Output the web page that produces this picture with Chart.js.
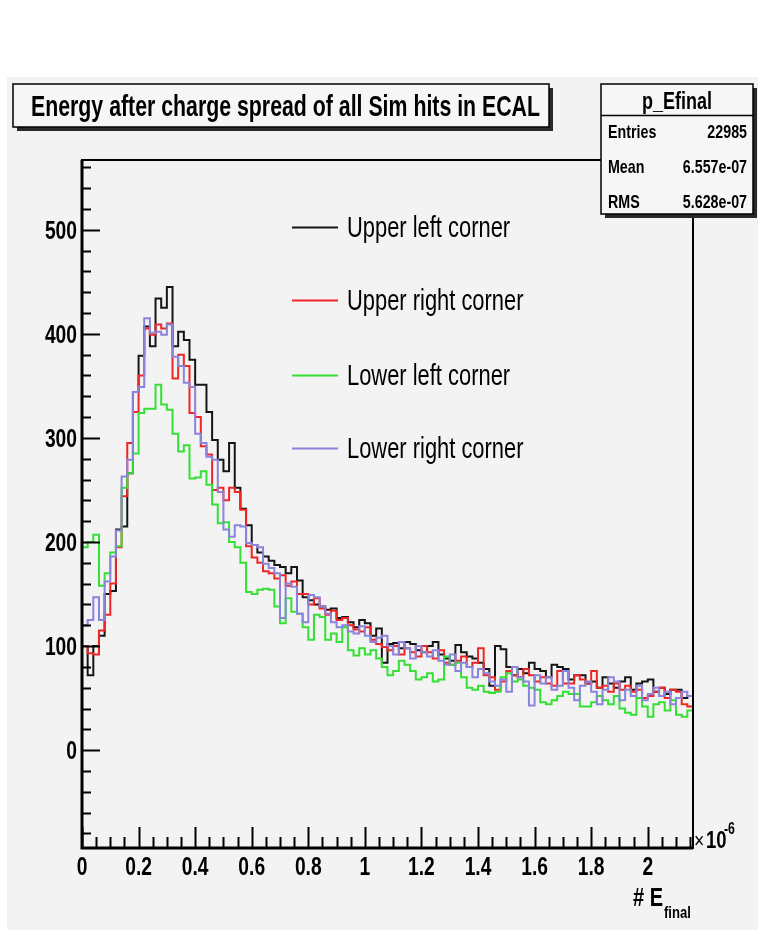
<!DOCTYPE html>
<html>
<head>
<meta charset="utf-8">
<title>p_Efinal</title>
<script src="https://cdn.jsdelivr.net/npm/chart.js@4.4.0/dist/chart.umd.min.js"></script>
<style>
  html, body { margin: 0; padding: 0; background: #fff; }
  #wrap { width: 758px; height: 933px; }
</style>
</head>
<body>
<div id="wrap"><canvas id="hist" width="758" height="933"></canvas></div>
<script>
// histogram binning, x in units of 1e-6
const binWidth = 0.02;
const xMin = 0, xMax = 2.16;
const yMin = -94, yMax = 567;

const xTicks = [0, 0.2, 0.4, 0.6, 0.8, 1, 1.2, 1.4, 1.6, 1.8, 2];
const xTickLabels = ['0', '0.2', '0.4', '0.6', '0.8', '1', '1.2', '1.4', '1.6', '1.8', '2'];
const yTicks = [0, 100, 200, 300, 400, 500];
const yTickLabels = ['0', '100', '200', '300', '400', '500'];

const seriesNames = ['Upper left corner', 'Upper right corner', 'Lower left corner', 'Lower right corner'];
const seriesColors = ['#151515', '#f02525', '#33e033', '#8a84dc'];

// bin contents, 108 bins
const upperLeft = [
  100, 72, 100, 110, 150, 153, 212, 215, 266, 344,
  379, 407, 388, 434, 425, 445, 388, 402, 394, 375,
  351, 351, 325, 298, 279, 268, 295, 252, 232, 216,
  197, 190, 186, 182, 178, 176, 170, 176, 163, 147,
  144, 140, 138, 135, 136, 127, 128, 123, 118, 125,
  122, 110, 117, 84, 102, 103, 98, 104, 102, 96,
  94, 100, 104, 92, 88, 86, 101, 94, 90, 88,
  84, 78, 62, 100, 97, 80, 72, 78, 74, 84,
  78, 76, 70, 82, 80, 78, 68, 72, 72, 64,
  66, 60, 70, 64, 60, 66, 70, 58, 64, 66,
  68, 56, 60, 54, 58, 58, 50, 52
];
const upperRight = [
  100, 93, 92, 115, 130, 160, 195, 244, 295, 325,
  360, 405, 399, 409, 405, 410, 357, 380, 369, 324,
  320, 292, 284, 250, 252, 240, 252, 248, 231, 196,
  185, 180, 172, 170, 165, 168, 158, 162, 150, 150,
  140, 146, 136, 130, 134, 125, 127, 120, 116, 114,
  118, 106, 102, 99, 96, 100, 92, 98, 94, 90,
  100, 94, 88, 96, 84, 82, 86, 90, 80, 84,
  98, 72, 70, 58, 66, 76, 72, 70, 78, 72,
  66, 70, 64, 62, 76, 64, 64, 72, 68, 64,
  76, 60, 62, 56, 64, 58, 62, 56, 58, 50,
  52, 56, 60, 50, 58, 56, 44, 42
];
const lowerLeft = [
  195, 200, 207, 158, 170, 190, 196, 252, 266, 285,
  324, 328, 328, 351, 332, 327, 304, 287, 293, 261,
  262, 268, 255, 236, 218, 219, 200, 195, 180, 152,
  150, 154, 155, 154, 138, 122, 146, 133, 131, 118,
  106, 130, 128, 106, 112, 104, 118, 96, 91, 98,
  92, 96, 88, 80, 72, 76, 86, 82, 76, 68,
  70, 74, 66, 68, 90, 82, 84, 70, 60, 58,
  62, 56, 55, 56, 70, 74, 66, 68, 62, 60,
  58, 46, 44, 48, 52, 56, 54, 54, 42, 42,
  46, 52, 48, 44, 52, 40, 36, 34, 50, 42,
  32, 44, 46, 38, 48, 34, 32, 38
];
const lowerRight = [
  120, 125, 147, 125, 162, 186, 211, 263, 279, 344,
  349, 415, 401, 402, 399, 409, 378, 369, 353, 349,
  304, 295, 282, 279, 248, 212, 205, 216, 215, 199,
  197, 195, 179, 175, 170, 127, 160, 157, 131, 123,
  149, 147, 138, 131, 123, 118, 120, 114, 112, 119,
  110, 104, 108, 110, 100, 92, 104, 98, 88, 100,
  94, 90, 96, 86, 82, 92, 76, 84, 80, 70,
  78, 74, 66, 62, 68, 56, 80, 70, 66, 43,
  72, 64, 70, 58, 62, 76, 60, 48, 62, 66,
  56, 44, 58, 70, 66, 48, 58, 52, 62, 48,
  54, 60, 52, 56, 44, 50, 56, 52
];

const statsRows = [['Entries', '22985'], ['Mean', '6.557e-07'], ['RMS', '5.628e-07']];

// left bin edges plus the closing edge, for a stepped outline
function stepPoints(counts) {
  const pts = counts.map((c, i) => ({ x: i * binWidth, y: c }));
  pts.push({ x: counts.length * binWidth, y: counts[counts.length - 1] });
  return pts;
}

const FONT = '"Liberation Sans", Arial, Helvetica, sans-serif';

function text(ctx, str, x, y, size, weight, align, squeeze) {
  ctx.save();
  ctx.translate(x, y);
  ctx.scale(squeeze, 1);
  ctx.font = `${weight} ${size}px ${FONT}`;
  ctx.textAlign = align;
  ctx.textBaseline = 'alphabetic';
  ctx.fillStyle = '#000';
  ctx.fillText(str, 0, 0);
  ctx.restore();
}

// squeeze text horizontally so it spans a given width
function textFit(ctx, str, x, y, size, weight, width) {
  ctx.save();
  ctx.font = `${weight} ${size}px ${FONT}`;
  const w = ctx.measureText(str).width;
  ctx.restore();
  text(ctx, str, x, y, size, weight, 'left', width / w);
}

function shadowBox(ctx, x, y, w, h) {
  ctx.fillStyle = '#2a2a2a';
  ctx.fillRect(x + 4, y + 4, w, h);
  ctx.fillStyle = '#f6f6f6';
  ctx.fillRect(x, y, w, h);
  ctx.strokeStyle = '#000';
  ctx.lineWidth = 1.5;
  ctx.strokeRect(x, y, w, h);
}

const rootPad = {
  id: 'rootPad',
  beforeDraw(chart) {
    const ctx = chart.ctx;
    ctx.save();
    ctx.fillStyle = '#fff';
    ctx.fillRect(0, 0, chart.width, chart.height);
    ctx.fillStyle = '#f3f3f3';
    ctx.fillRect(7, 77, 751, 853);
    ctx.restore();
  },
  afterDraw(chart) {
    const ctx = chart.ctx;
    const a = chart.chartArea;
    const xs = chart.scales.x, ys = chart.scales.y;
    ctx.save();

    // frame
    ctx.strokeStyle = '#000';
    ctx.lineWidth = 2;
    ctx.strokeRect(a.left, a.top, a.right - a.left, a.bottom - a.top);
    ctx.lineWidth = 3;
    ctx.beginPath();
    ctx.moveTo(a.left, a.top); ctx.lineTo(a.left, a.bottom); ctx.lineTo(a.right, a.bottom);
    ctx.stroke();

    // y ticks, drawn inward
    ctx.lineWidth = 2;
    ctx.beginPath();
    for (let v = -80; v <= yMax; v += 20) {
      const py = Math.round(ys.getPixelForValue(v)) + 0.5;
      const len = v % 100 === 0 ? 18 : 9;
      ctx.moveTo(a.left, py); ctx.lineTo(a.left + len, py);
    }
    // x ticks, drawn upward
    for (let k = 0; k * 0.05 <= xMax + 1e-9; k++) {
      const px = Math.round(xs.getPixelForValue(k * 0.05)) + 0.5;
      const len = k % 4 === 0 ? 21 : 11;
      ctx.moveTo(px, a.bottom); ctx.lineTo(px, a.bottom - len);
    }
    ctx.stroke();

    yTicks.forEach((v, i) => {
      text(ctx, yTickLabels[i], 77, ys.getPixelForValue(v) + 9, 25, 'bold', 'right', 0.77);
    });
    xTicks.forEach((v, i) => {
      text(ctx, xTickLabels[i], xs.getPixelForValue(v), 875, 25, 'bold', 'center', 0.77);
    });

    // axis exponent and title
    text(ctx, '\u00d7', a.right + 1, 848, 22, 'normal', 'left', 0.8);
    text(ctx, '10', a.right + 13, 848, 24, 'bold', 'left', 0.77);
    text(ctx, '-6', a.right + 31, 834, 16, 'bold', 'left', 0.77);
    text(ctx, '# E', 633, 906, 26, 'bold', 'left', 0.77);
    text(ctx, 'final', 664, 918, 17, 'bold', 'left', 0.77);

    // legend
    const rows = [227, 300, 375, 448];
    chart.data.datasets.forEach((ds, i) => {
      ctx.strokeStyle = ds.borderColor;
      ctx.lineWidth = 2;
      ctx.beginPath();
      ctx.moveTo(292, rows[i] + 0.5); ctx.lineTo(338, rows[i] + 0.5);
      ctx.stroke();
      text(ctx, ds.label, 347, rows[i] + 10, 30, 'normal', 'left', 0.73);
    });

    // title box
    shadowBox(ctx, 13, 84, 536, 43);
    textFit(ctx, 'Energy after charge spread of all Sim hits in ECAL', 31, 116, 30, 'bold', 509);

    // stats box
    shadowBox(ctx, 601, 84, 152, 130);
    ctx.strokeStyle = '#000';
    ctx.lineWidth = 1.5;
    ctx.beginPath();
    ctx.moveTo(601, 115.5); ctx.lineTo(753, 115.5);
    ctx.stroke();
    text(ctx, 'p_Efinal', 677, 109, 24, 'bold', 'center', 0.75);
    statsRows.forEach((r, i) => {
      const by = 138 + i * 35;
      text(ctx, r[0], 608, by, 19, 'bold', 'left', 0.75);
      text(ctx, r[1], 747, by, 19, 'bold', 'right', 0.75);
    });

    ctx.restore();
  }
};

const series = [upperLeft, upperRight, lowerLeft, lowerRight];

new Chart(document.getElementById('hist'), {
  type: 'line',
  data: {
    datasets: series.map((counts, i) => ({
      label: seriesNames[i],
      data: stepPoints(counts),
      borderColor: seriesColors[i],
      borderWidth: 2,
      pointRadius: 0,
      stepped: true,
      fill: false,
      order: 3 - i
    }))
  },
  options: {
    responsive: false,
    animation: false,
    devicePixelRatio: 1,
    layout: { padding: { left: 0, top: 160, right: 65, bottom: 25 } },
    plugins: { legend: { display: false }, title: { display: false }, tooltip: { enabled: false } },
    scales: {
      x: {
        type: 'linear', min: xMin, max: xMax,
        grid: { display: false }, border: { display: false },
        ticks: { display: false },
        afterFit: s => { s.height = 60; }
      },
      y: {
        type: 'linear', min: yMin, max: yMax,
        grid: { display: false }, border: { display: false },
        ticks: { display: false },
        afterFit: s => { s.width = 82; }
      }
    }
  },
  plugins: [rootPad]
});
</script>
</body>
</html>
